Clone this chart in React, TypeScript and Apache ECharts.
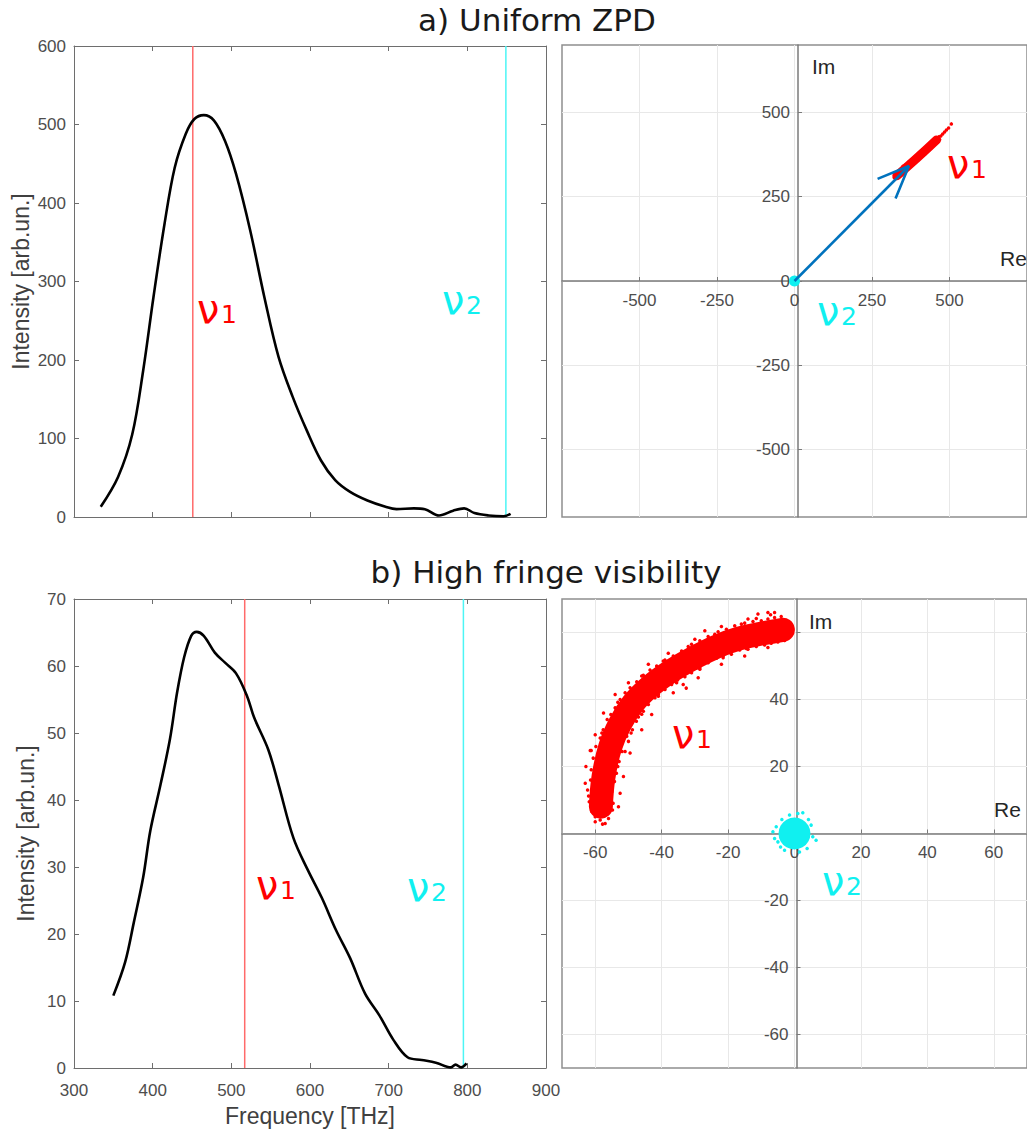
import React, { useEffect, useRef } from 'react';
import * as echarts from 'echarts';

// ---- a) Uniform ZPD : spectrum ----
const freqA = [334, 356, 374, 388, 401, 415, 428, 442, 453, 465, 478, 492, 506, 524, 542, 560, 578, 596, 614, 632, 651, 673, 696, 710, 732, 746, 764, 782, 796, 809, 827, 846, 855];
const intensityA = [13, 51, 105, 187, 280, 373, 445, 488, 507, 512, 505, 479, 437, 365, 280, 204, 153, 110, 72, 47, 32, 21, 13, 10, 11, 10, 2, 8, 11, 5, 2, 1, 4];
const nu1FreqA = 451;
const nu2FreqA = 849;

// ---- b) High fringe visibility : spectrum ----
const freqB = [350, 365, 376, 388, 397, 410, 422, 431, 440, 449, 456, 465, 479, 492, 506, 520, 529, 547, 560, 579, 597, 615, 633, 651, 670, 688, 706, 724, 742, 760, 779, 785, 792, 799];
const intensityB = [10.8, 15.8, 21.7, 28.5, 35.4, 42.3, 49.1, 56, 61.3, 64.5, 65.1, 64.5, 62, 60.5, 58.9, 55.5, 52.3, 47.5, 42.3, 34.3, 29.6, 25.4, 20.6, 16.4, 11.1, 7.9, 4.2, 1.6, 1.2, 0.8, 0.1, 0.5, 0.1, 0.7];
const nu1FreqB = 517;
const nu2FreqB = 795;

// ---- a) complex plane ----
const arrowShaftA = [[0, 0], [369, 341]];
const arrowHeadA = [[268, 303], [369, 341], [326, 245]];
const cloudCoreA = [[330, 312], [392, 362], [458, 418]];
const cloudDotsA = [
  [322, 306], [326, 316], [332, 322], [340, 314], [345, 330], [350, 340], [354, 326], [358, 344],
  [364, 334], [368, 352], [372, 340], [376, 358], [382, 348], [386, 366], [390, 354], [396, 372],
  [400, 360], [404, 378], [410, 370], [414, 386], [420, 376], [424, 394], [430, 386], [434, 402],
  [440, 394], [444, 410], [450, 404], [456, 420], [462, 414], [466, 428], [472, 430], [478, 436],
  [484, 442], [490, 448], [497, 454], [506, 466], [468, 420], [446, 416], [452, 412]
];
const nu2PointA = [[0, 0]];

// ---- b) complex plane ----
const bandCoreB = [[-58.3, 8], [-57.5, 16.9], [-55.5, 25.8], [-52.5, 32.8], [-48.6, 38.8], [-43.6, 43.8], [-37.6, 48.2], [-30.7, 52.2], [-23.7, 55.7], [-16.7, 58.2], [-9.75, 59.7], [-3.5, 60.8]];
const bandDotsB = [
  [-61.8, 9.5], [-62.3, 13], [-61.4, 16], [-62, 11.2], [-54.6, 9], [-55, 12.5], [-54.2, 15.5], [-54.8, 7],
  [-61.2, 19], [-60.6, 22.5], [-61.5, 24.8], [-59.8, 26], [-53.6, 18], [-52.8, 21.5], [-53.2, 20], [-51.9, 24.5],
  [-58.5, 28.5], [-57.6, 31], [-56.4, 34], [-58, 30], [-51, 24.5], [-50, 27.5], [-49.2, 30], [-50.5, 29],
  [-55.3, 35.5], [-54, 37.5], [-52.5, 40], [-53.2, 39.2], [-48.8, 31], [-47.6, 33.5], [-46, 35.6], [-47, 34.8],
  [-51, 42], [-49.5, 43.5], [-47.5, 45.3], [-46, 47], [-45.5, 36.5], [-44, 38.5], [-42, 40.5], [-41, 41.5],
  [-45.5, 47.2], [-43.5, 48.8], [-41.5, 50], [-39.5, 51.5], [-41, 41], [-39, 43], [-37, 44.5], [-35.2, 45.8],
  [-39, 51.8], [-36.5, 53], [-34, 54.5], [-32, 55.8], [-35.5, 45], [-33, 46.8], [-31, 48], [-28.5, 49],
  [-31, 56.5], [-28.5, 57.5], [-26, 58.8], [-24, 59.5], [-28.5, 49.5], [-26, 51], [-23.5, 52.3], [-21.5, 53],
  [-23, 60.2], [-20.5, 61], [-18, 62], [-16, 62.5], [-21.5, 52.5], [-19, 53.5], [-16.5, 54.8], [-14.5, 55.2],
  [-15, 62.8], [-12.5, 63.3], [-10, 63.5], [-11.5, 64.2], [-14, 55], [-11.5, 55.8], [-9, 56.3], [-12.5, 56.6],
  [-8, 64], [-6, 64.5], [-4, 64.8], [-7.2, 65.3], [-7, 56.8], [-5, 57.2], [-3, 57.6],
  [-1.5, 62], [-1, 60], [-1.8, 58.6], [-0.8, 61.2],
  [-60, 5], [-58.5, 4], [-57, 3], [-56, 4.5], [-61, 6.5], [-57.8, 2.8],
  [-61.2, 24.8], [-32.6, 43.4], [-8, 66], [-60, 3.5],
  [-63, 15], [-62.8, 20], [-60, 29.5], [-57.5, 36], [-54, 41.5], [-50, 45], [-44, 50.5], [-38, 53.8],
  [-30, 58], [-22, 61.8], [-14, 64], [-6, 66], [-11, 65.5], [-27, 60.5],
  [-52.5, 12], [-51.5, 17], [-49.5, 24], [-46, 31], [-43, 35.5], [-36.5, 42], [-29, 46.5], [-22, 50.5],
  [-15, 53], [-8, 55.5], [-53, 8], [-33.5, 44.5]
];
const nu2CoreB = [[0, 0]];
const nu2DotsB = [[-5.5, 2], [-5, -2.5], [5.5, -1], [5, 2.5], [-1.5, 5.5], [1.5, -5.5], [6.5, -2], [2.5, 6.2], [-3.8, 4.2], [3.8, -4.5], [-6.5, 0.5], [1, 6], [-3, -5], [-6, -1.5], [4.2, 4.2], [-4.2, -4]];

const ticksCplxA = [-500, -250, 0, 250, 500];
const ticksCplxB = [-60, -40, -20, 0, 20, 40, 60];

const zip = (xs: number[], ys: number[]) => xs.map((x, i) => [x, ys[i]]);

const LABEL_FONT = 'Liberation Sans';
const labelStyle = { fontFamily: LABEL_FONT, fontSize: 17, color: '#4d4d4d' };
const nameStyle = { fontFamily: LABEL_FONT, fontSize: 23, color: '#404040' };
const boxLine = { show: true, onZero: false, lineStyle: { color: '#6e6e6e', width: 1 } };
const inTick = { show: true, inside: true, length: 5, lineStyle: { color: '#6e6e6e' } };
const zeroLine = { show: true, onZero: false, lineStyle: { color: '#7a7a7a', width: 1.5 } };
const cplxSplit = { show: true, lineStyle: { color: '#e8e8e8', width: 1 } };

function nuLabel(x: number, base: number, sub: string, color: string) {
  return [
    { type: 'text', x: x - 1, y: base - 14, z: 50, style: { text: 'ν', font: '40px "DejaVu Sans"', fill: color, verticalAlign: 'middle', textVerticalAlign: 'middle' } },
    { type: 'text', x: x + 23, y: base - 9, z: 50, style: { text: sub, font: '25px "DejaVu Sans"', fill: color, verticalAlign: 'middle', textVerticalAlign: 'middle' } },
  ];
}
function plainText(x: number, y: number, text: string, font: string, fill: string, align = 'left') {
  return { type: 'text', x, y, z: 50, style: { text, font, fill, align, textAlign: align, verticalAlign: 'middle', textVerticalAlign: 'middle' } };
}

export default function App() {
  const ref = useRef<HTMLDivElement>(null);
  useEffect(() => {
    if (!ref.current) return;
    const chart = echarts.init(ref.current, undefined, { renderer: 'svg' });
    const RED = '#ff0000';
    const CYAN = '#10f0f0';
    const option: any = {
      animation: false,
      backgroundColor: '#ffffff',
      grid: [
        { left: 74, top: 46, width: 472, height: 471 },
        { left: 562, top: 45, width: 472, height: 472, show: true, borderColor: '#8f8f8f', borderWidth: 1.5, backgroundColor: 'transparent' },
        { left: 74, top: 599, width: 472, height: 469 },
        { left: 562, top: 599, width: 469, height: 469, show: true, borderColor: '#8f8f8f', borderWidth: 1.5, backgroundColor: 'transparent' },
      ],
      xAxis: [
        { gridIndex: 0, type: 'value', min: 300, max: 900, interval: 100, position: 'bottom', axisLine: boxLine, axisTick: inTick, axisLabel: { show: false }, splitLine: { show: false } },
        { gridIndex: 0, type: 'value', min: 300, max: 900, interval: 100, position: 'top', axisLine: boxLine, axisTick: inTick, axisLabel: { show: false }, splitLine: { show: false } },
        {
          gridIndex: 1, type: 'value', min: -750, max: 750, position: 'bottom', offset: -236,
          axisLine: zeroLine,
          axisTick: { show: true, inside: true, length: 4, customValues: ticksCplxA, lineStyle: { color: '#7a7a7a' } },
          axisLabel: { ...labelStyle, margin: 11, customValues: ticksCplxA },
          splitLine: cplxSplit,
        },
        {
          gridIndex: 2, type: 'value', min: 300, max: 900, interval: 100, position: 'bottom', axisLine: boxLine, axisTick: inTick,
          axisLabel: { ...labelStyle, margin: 14 }, splitLine: { show: false },
          name: 'Frequency [THz]', nameLocation: 'middle', nameGap: 36, nameTextStyle: nameStyle,
        },
        { gridIndex: 2, type: 'value', min: 300, max: 900, interval: 100, position: 'top', axisLine: boxLine, axisTick: inTick, axisLabel: { show: false }, splitLine: { show: false } },
        {
          gridIndex: 3, type: 'value', min: -70, max: 70, position: 'bottom', offset: -234.5,
          axisLine: zeroLine,
          axisTick: { show: true, inside: true, length: 4, customValues: ticksCplxB, lineStyle: { color: '#7a7a7a' } },
          axisLabel: { ...labelStyle, margin: 10, customValues: ticksCplxB },
          splitLine: cplxSplit,
        },
      ],
      yAxis: [
        {
          gridIndex: 0, type: 'value', min: 0, max: 600, interval: 100, position: 'left', axisLine: boxLine, axisTick: inTick,
          axisLabel: { ...labelStyle, margin: 8 }, splitLine: { show: false },
          name: 'Intensity [arb.un.]', nameLocation: 'middle', nameGap: 42, nameTextStyle: nameStyle,
        },
        { gridIndex: 0, type: 'value', min: 0, max: 600, interval: 100, position: 'right', axisLine: boxLine, axisTick: inTick, axisLabel: { show: false }, splitLine: { show: false } },
        {
          gridIndex: 1, type: 'value', min: -700, max: 700, position: 'left', offset: -236,
          axisLine: zeroLine,
          axisTick: { show: true, inside: true, length: 4, customValues: ticksCplxA, lineStyle: { color: '#7a7a7a' } },
          axisLabel: { ...labelStyle, margin: 8, customValues: ticksCplxA },
          splitLine: cplxSplit,
        },
        {
          gridIndex: 2, type: 'value', min: 0, max: 70, interval: 10, position: 'left', axisLine: boxLine, axisTick: inTick,
          axisLabel: { ...labelStyle, margin: 8 }, splitLine: { show: false },
          name: 'Intensity [arb.un.]', nameLocation: 'middle', nameGap: 37, nameTextStyle: nameStyle,
        },
        { gridIndex: 2, type: 'value', min: 0, max: 70, interval: 10, position: 'right', axisLine: boxLine, axisTick: inTick, axisLabel: { show: false }, splitLine: { show: false } },
        {
          gridIndex: 3, type: 'value', min: -70, max: 70, position: 'left', offset: -234.5,
          axisLine: zeroLine,
          axisTick: { show: true, inside: true, length: 4, customValues: ticksCplxB, lineStyle: { color: '#7a7a7a' } },
          axisLabel: { ...labelStyle, margin: 8, customValues: ticksCplxB },
          splitLine: cplxSplit,
        },
      ],
      series: [
        // a) spectrum
        { type: 'line', xAxisIndex: 0, yAxisIndex: 0, data: [[nu1FreqA, 0], [nu1FreqA, 600]], showSymbol: false, lineStyle: { color: '#ff6a6a', width: 1.5 } },
        { type: 'line', xAxisIndex: 0, yAxisIndex: 0, data: [[nu2FreqA, 0], [nu2FreqA, 600]], showSymbol: false, lineStyle: { color: '#4cf5f5', width: 1.5 } },
        { type: 'line', xAxisIndex: 0, yAxisIndex: 0, data: zip(freqA, intensityA), smooth: 0.35, showSymbol: false, lineStyle: { color: '#000000', width: 2.6 } },
        // a) complex plane
        { type: 'line', xAxisIndex: 2, yAxisIndex: 2, data: cloudCoreA, smooth: true, showSymbol: false, lineStyle: { color: RED, width: 9, cap: 'round' } },
        { type: 'scatter', xAxisIndex: 2, yAxisIndex: 2, data: cloudDotsA, symbolSize: 3.5, itemStyle: { color: RED, opacity: 1 } },
        { type: 'scatter', xAxisIndex: 2, yAxisIndex: 2, data: nu2PointA, symbolSize: 11, itemStyle: { color: CYAN, opacity: 1 } },
        { type: 'line', xAxisIndex: 2, yAxisIndex: 2, data: arrowShaftA, showSymbol: false, lineStyle: { color: '#0072BD', width: 2.6 } },
        { type: 'line', xAxisIndex: 2, yAxisIndex: 2, data: arrowHeadA, showSymbol: false, lineStyle: { color: '#0072BD', width: 2.6 } },
        // b) spectrum
        { type: 'line', xAxisIndex: 3, yAxisIndex: 3, data: [[nu1FreqB, 0], [nu1FreqB, 70]], showSymbol: false, lineStyle: { color: '#ff6a6a', width: 1.5 } },
        { type: 'line', xAxisIndex: 3, yAxisIndex: 3, data: [[nu2FreqB, 0], [nu2FreqB, 70]], showSymbol: false, lineStyle: { color: '#4cf5f5', width: 1.5 } },
        { type: 'line', xAxisIndex: 3, yAxisIndex: 3, data: zip(freqB, intensityB), smooth: 0.35, showSymbol: false, lineStyle: { color: '#000000', width: 2.6 } },
        // b) complex plane
        { type: 'line', xAxisIndex: 5, yAxisIndex: 5, data: bandCoreB, smooth: 0.4, showSymbol: false, lineStyle: { color: RED, width: 24, cap: 'round', join: 'round' } },
        { type: 'scatter', xAxisIndex: 5, yAxisIndex: 5, data: bandDotsB, symbolSize: 3.5, itemStyle: { color: RED, opacity: 1 } },
        { type: 'scatter', xAxisIndex: 5, yAxisIndex: 5, data: nu2CoreB, symbolSize: 32, itemStyle: { color: CYAN, opacity: 1 } },
        { type: 'scatter', xAxisIndex: 5, yAxisIndex: 5, data: nu2DotsB, symbolSize: 3.5, itemStyle: { color: CYAN, opacity: 1 } },
      ],
      graphic: [
        plainText(537, 20, 'a) Uniform ZPD', '31px "DejaVu Sans"', '#1a1a1a', 'center'),
        plainText(546, 572, 'b) High fringe visibility', '31px "DejaVu Sans"', '#1a1a1a', 'center'),
        plainText(812, 66, 'Im', '21px "Liberation Sans"', '#262626'),
        plainText(1000, 258, 'Re', '21px "Liberation Sans"', '#262626'),
        plainText(809, 621, 'Im', '21px "Liberation Sans"', '#262626'),
        plainText(994, 809, 'Re', '21px "Liberation Sans"', '#262626'),
        ...nuLabel(198, 323, '1', RED),
        ...nuLabel(443, 314, '2', CYAN),
        ...nuLabel(948, 178, '1', RED),
        ...nuLabel(818, 325, '2', CYAN),
        ...nuLabel(257, 899, '1', RED),
        ...nuLabel(408, 901, '2', CYAN),
        ...nuLabel(673, 748, '1', RED),
        ...nuLabel(823, 895, '2', CYAN),
      ],
    };
    chart.setOption(option);
    return () => chart.dispose();
  }, []);
  return <div ref={ref} style={{ position: 'absolute', left: 0, top: 0, width: 1027, height: 1136 }} />;
}
